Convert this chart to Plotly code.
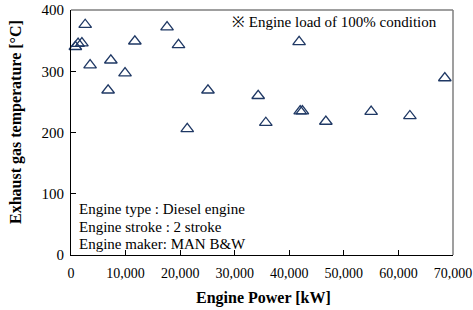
import plotly.graph_objects as go

power_kw = [800, 1300, 2000, 2600, 3500, 6800, 7300, 9900, 11700, 17600, 19700,
            21300, 25100, 34300, 35700, 41800, 42000, 42400, 46700, 55000, 62100, 68500]
exhaust_temp = [340, 345, 346, 376, 310, 269, 318, 297, 349, 372, 343,
                206, 269, 260, 216, 348, 235, 235, 218, 234, 227, 289]

x_ticks = [0, 10000, 20000, 30000, 40000, 50000, 60000, 70000]
x_tick_labels = ["0", "10,000", "20,000", "30,000", "40,000", "50,000", "60,000", "70,000"]
y_ticks = [0, 100, 200, 300, 400]
info_lines = ["Engine type : Diesel engine", "Engine stroke : 2 stroke", "Engine maker: MAN B&amp;W"]

FONT = "Liberation Serif, Times New Roman, serif"
NAVY = "#1f3864"

W, H = 473, 310
L, R, T, B = 71, 20, 10, 55
plot_h = H - T - B
plot_w = W - L - R


def py(pix):  # pixel y -> paper y
    return (H - B - pix) / plot_h


def px(pix):  # pixel x -> paper x
    return (pix - L) / plot_w


fig = go.Figure()
fig.add_trace(go.Scatter(
    x=power_kw, y=exhaust_temp, mode="markers",
    marker=dict(symbol="triangle-up-open", size=11, color=NAVY, line=dict(width=1.3, color=NAVY)),
    showlegend=False, cliponaxis=False,
))

annotations = [
    dict(text="※ Engine load of 100% condition", xref="paper", yref="paper",
         x=px(439), y=py(22), xanchor="right", yanchor="middle", showarrow=False,
         font=dict(family=FONT, size=15)),
    dict(text="<b>Engine Power [kW]</b>", xref="paper", yref="paper",
         x=px(263), y=py(298), xanchor="center", yanchor="middle", showarrow=False,
         font=dict(family=FONT, size=16)),
    dict(text="<b>Exhaust gas temperature [°C]</b>", xref="paper", yref="paper",
         x=px(16), y=py(122), xanchor="center", yanchor="middle", showarrow=False,
         textangle=-90, font=dict(family=FONT, size=16)),
]
for i, line in enumerate(info_lines):
    annotations.append(dict(text=line, xref="paper", yref="paper",
                            x=px(77), y=py(209 + 17.5 * i), xanchor="left", yanchor="middle",
                            showarrow=False, font=dict(family=FONT, size=15)))

fig.update_layout(
    width=W, height=H,
    margin=dict(l=L, r=R, t=T, b=B),
    paper_bgcolor="white", plot_bgcolor="white",
    font=dict(family=FONT, size=14, color="black"),
    xaxis=dict(
        range=[0, 70000], tickvals=x_ticks, ticktext=x_tick_labels, automargin=False,
        showgrid=False, zeroline=False, showline=True, linecolor="black", linewidth=1,
        ticks="inside", ticklen=5, tickcolor="black", ticklabelstandoff=5,
        tickfont=dict(family=FONT, size=14),
    ),
    yaxis=dict(
        range=[0, 400], tickvals=y_ticks, automargin=False,
        showgrid=False, zeroline=False, showline=True, linecolor="black", linewidth=1,
        ticks="inside", ticklen=5, tickcolor="black", ticklabelstandoff=3,
        tickfont=dict(family=FONT, size=15),
    ),
    shapes=[
        dict(type="line", xref="paper", yref="paper", x0=0, x1=1, y0=1, y1=1,
             line=dict(color="#7f7f7f", width=1.5)),
        dict(type="line", xref="paper", yref="paper", x0=1, x1=1, y0=0, y1=1,
             line=dict(color="#7f7f7f", width=1.5)),
    ],
    annotations=annotations,
)

fig.write_html("out.html")
